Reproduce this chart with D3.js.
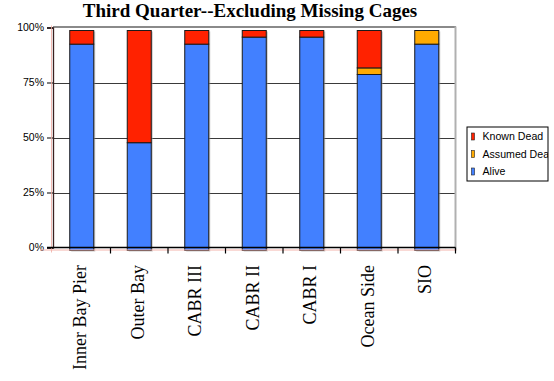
<!DOCTYPE html>
<html>
<head>
<meta charset="utf-8">
<script src="https://cdn.jsdelivr.net/npm/d3@7"></script>
<style>
  html, body { margin: 0; padding: 0; background: #fff; }
  svg { display: block; }
</style>
</head>
<body>
<svg id="chart" width="554" height="381"></svg>
<script>
// Cage survival by site, third quarter (missing cages excluded)
const categories = ["Inner Bay Pier", "Outer Bay", "CABR III", "CABR II", "CABR I", "Ocean Side", "SIO"];
const alive       = [0.938, 0.49, 0.938, 0.97, 0.97, 0.80, 0.938];
const assumedDead = [0,     0,    0,     0,    0,    0.03, 0.062];
const knownDead   = [0.062, 0.51, 0.062, 0.03, 0.03, 0.17, 0];
const seriesNames = ["Alive", "Assumed Dead", "Known Dead"];
const seriesColors = ["#4280ff", "#ffaa00", "#ff2200"];
const yTicks = [0, 0.25, 0.5, 0.75, 1];
const yTickLabels = ["0%", "25%", "50%", "75%", "100%"];

const svg = d3.select("#chart");
const plotL = 53, plotR = 455.5, plotT = 27.5, plotB = 247.5;

const x = d3.scaleBand().domain(categories).range([plotL, plotR])
  .paddingInner(0.5826).paddingOuter(0.2913);
const y = d3.scaleLinear().domain([0, 1]).range([plotB, plotT]);

const rows = categories.map((c, i) => ({
  cat: c, "Alive": alive[i], "Assumed Dead": assumedDead[i], "Known Dead": knownDead[i]
}));
const stacked = d3.stack().keys(seriesNames)(rows);

// title
svg.append("text")
  .attr("x", 250).attr("y", 17)
  .attr("text-anchor", "middle")
  .style("font-family", "'Liberation Serif', 'Times New Roman', serif")
  .style("font-weight", "bold")
  .style("font-size", "19px")
  .text("Third Quarter--Excluding Missing Cages");

// gridlines
svg.append("g").selectAll("line").data(yTicks.slice(1, 4)).join("line")
  .attr("x1", plotL).attr("x2", plotR)
  .attr("y1", d => y(d) + 1).attr("y2", d => y(d) + 1)
  .attr("stroke", "#3a3a3a").attr("stroke-width", 1.2);

// plot frame (top and right edges)
svg.append("line").attr("x1", plotL).attr("x2", plotR + 0.5)
  .attr("y1", y(1) - 0.5).attr("y2", y(1) - 0.5)
  .attr("stroke", "#8a8a8a").attr("stroke-width", 2);
svg.append("line").attr("x1", plotR).attr("x2", plotR)
  .attr("y1", y(1) - 1).attr("y2", plotB + 3)
  .attr("stroke", "#b0b0b0").attr("stroke-width", 2);

// bars: soft shadow, then stacked segments
const barG = svg.append("g").attr("transform", "translate(0,3)");
barG.selectAll("rect.shadow").data(categories).join("rect")
  .attr("class", "shadow")
  .attr("x", d => x(d) + 1.5)
  .attr("y", y(1) + 1)
  .attr("width", x.bandwidth())
  .attr("height", y(0) - y(1))
  .attr("fill", "#9a9a9a").attr("opacity", 0.55);

stacked.forEach((s, si) => {
  barG.append("g").selectAll("rect").data(s.filter(d => d[1] - d[0] > 0)).join("rect")
    .attr("x", d => x(d.data.cat))
    .attr("y", d => y(d[1]))
    .attr("width", x.bandwidth())
    .attr("height", d => y(d[0]) - y(d[1]))
    .attr("fill", seriesColors[si])
    .attr("stroke", "#1a1a1a").attr("stroke-width", 1);
});

// y axis
const yAxis = d3.axisLeft(y).tickValues(yTicks)
  .tickFormat((d, i) => yTickLabels[i]).tickSize(6).tickPadding(3);
const yg = svg.append("g").attr("transform", `translate(${plotL},0)`).call(yAxis);
yg.select(".domain").attr("stroke", "#3a2020").attr("stroke-width", 1.3);
yg.selectAll(".tick line").attr("stroke", "#000");
yg.selectAll("text")
  .style("font-family", "'Liberation Sans', Arial, sans-serif")
  .style("font-size", "10.5px").attr("fill", "#000");
svg.append("line").attr("x1", plotL - 1.5).attr("x2", plotL - 1.5)
  .attr("y1", plotT - 2).attr("y2", plotB + 5)
  .attr("stroke", "#f0a8a0").attr("stroke-width", 0.8);

// x axis with ticks at category boundaries
svg.append("line").attr("x1", 40).attr("x2", plotR + 1)
  .attr("y1", plotB + 2.5).attr("y2", plotB + 2.5)
  .attr("stroke", "#f4b4ac").attr("stroke-width", 1);
svg.append("line").attr("x1", plotL - 6).attr("x2", plotR)
  .attr("y1", plotB).attr("y2", plotB)
  .attr("stroke", "#000").attr("stroke-width", 1.3);
const step = x.step();
svg.append("g").selectAll("line").data(categories).join("line")
  .attr("x1", d => x(d) - x.paddingOuter() * step + step)
  .attr("x2", d => x(d) - x.paddingOuter() * step + step)
  .attr("y1", plotB).attr("y2", plotB + 6)
  .attr("stroke", "#000").attr("stroke-width", 1.2);

svg.append("g").selectAll("text").data(categories).join("text")
  .attr("transform", d => `translate(${x(d) + x.bandwidth() / 2 - 2},265) rotate(-90)`)
  .attr("text-anchor", "end")
  .attr("dy", "0.35em")
  .style("font-family", "'Liberation Serif', 'Times New Roman', serif")
  .style("font-size", "18px")
  .text(d => d);

// legend
const legend = svg.append("g");
svg.append("clipPath").attr("id", "legclip")
  .append("rect").attr("x", 467).attr("y", 127).attr("width", 81).attr("height", 54);
legend.append("rect").attr("x", 467).attr("y", 127).attr("width", 81).attr("height", 54)
  .attr("fill", "#fff").attr("stroke", "#000").attr("stroke-width", 1);
const legendOrder = [2, 1, 0];
const lg = legend.append("g").attr("clip-path", "url(#legclip)");
legendOrder.forEach((si, k) => {
  const cy = 136.5 + k * 17.5;
  lg.append("rect").attr("x", 471.5).attr("y", cy - 3.5).attr("width", 3).attr("height", 7)
    .attr("fill", seriesColors[si]).attr("stroke", "#222").attr("stroke-width", 0.6);
  lg.append("text").attr("x", 482.5).attr("y", cy).attr("dy", "0.35em")
    .style("font-family", "'Liberation Sans', Arial, sans-serif")
    .style("font-size", "10.6px")
    .text(seriesNames[si]);
});
</script>
</body>
</html>
